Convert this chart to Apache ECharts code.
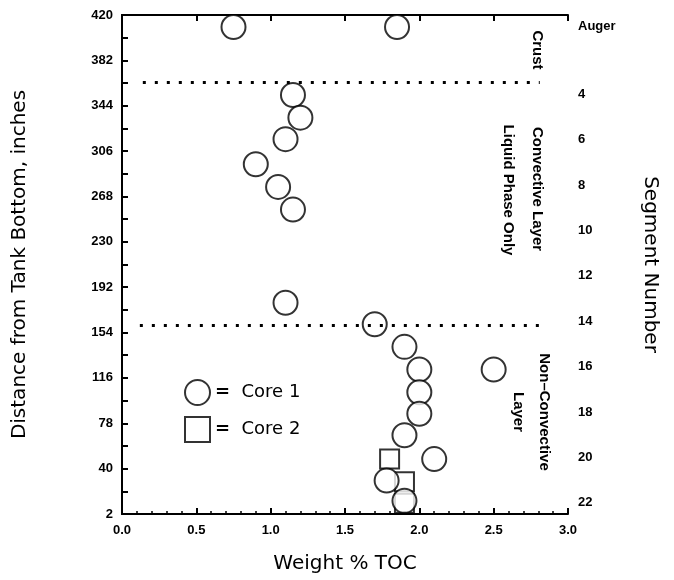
<!DOCTYPE html>
<html>
<head>
<meta charset="utf-8">
<script src="https://cdn.jsdelivr.net/npm/echarts@6/dist/echarts.min.js"></script>
<style>
  html, body { margin: 0; padding: 0; background: #fff; }
  #chart { width: 674px; height: 580px; }
</style>
</head>
<body>
<div id="chart"></div>
<script>
// Core 1 samples (weight % TOC, distance from tank bottom in inches)
const core1X = [0.75, 1.85, 1.15, 1.2, 1.1, 0.9, 1.05, 1.15, 1.1, 1.7, 1.9, 2.0, 2.0, 2.0, 1.9, 2.1, 1.78, 2.5, 1.9];
const core1Y = [410, 410, 353, 334, 316, 295, 276, 257, 179, 161, 142, 123, 104, 86, 68, 48, 30, 123, 13];
// Core 2 samples
const core2X = [1.8, 1.9, 1.9];
const core2Y = [48, 29, 11];

// layer boundaries (inches) and how far the dotted line runs (wt %)
const boundaryY = [364, 160];
const boundaryFrom = [0.14, 0.12];
const boundaryTo = [2.81, 2.86];

// right-hand axis: one slot per segment, top to bottom
const segmentLabels = ['Auger', '', '', '4', '', '6', '', '8', '', '10', '', '12', '',
    '14', '', '16', '', '18', '', '20', '', '22'];

const font = 'Liberation Sans';
const titleFont = 'DejaVu Sans';
const zip = (xs, ys) => xs.map((x, i) => [x, ys[i]]);

const chart = echarts.init(document.getElementById('chart'));

const boldLabel = { color: '#000', fontFamily: font, fontWeight: 'bold', fontSize: 13 };
const axisLine = { show: true, lineStyle: { color: '#000', width: 2 } };
const titleStyle = { color: '#000', fontFamily: titleFont, fontSize: 20 };

function sideText(text, x, y) {
    return {
        type: 'text', x: x, y: y, rotation: -Math.PI / 2,
        style: { text: text, x: 0, y: 0, align: 'center', verticalAlign: 'middle',
            fill: '#000', fontFamily: font, fontWeight: 'bold', fontSize: 15 }
    };
}

chart.setOption({
    animation: false,
    grid: { left: 122, right: 106, top: 15, bottom: 66 },
    xAxis: [
        {
            type: 'value', min: 0, max: 3, interval: 0.5, position: 'bottom',
            name: 'Weight % TOC', nameLocation: 'middle', nameGap: 40,
            nameTextStyle: titleStyle,
            axisLine: axisLine,
            axisTick: { inside: true, length: 6, lineStyle: { color: '#000', width: 2 } },
            minorTick: { show: true, splitNumber: 5, length: 3, lineStyle: { color: '#000', width: 1.5 } },
            axisLabel: Object.assign({ margin: 10, formatter: v => v.toFixed(1) }, boldLabel),
            splitLine: { show: false }
        },
        {
            type: 'value', min: 0, max: 3, interval: 0.5, position: 'top',
            axisLine: axisLine,
            axisTick: { inside: true, length: 6, lineStyle: { color: '#000', width: 2 } },
            axisLabel: { show: false },
            splitLine: { show: false }
        }
    ],
    yAxis: [
        {
            type: 'value', min: 2, max: 420, interval: 38, position: 'left',
            name: 'Distance from Tank Bottom, inches', nameLocation: 'middle', nameGap: 92, nameRotate: 90,
            nameTextStyle: titleStyle,
            axisLine: axisLine,
            axisTick: { inside: true, length: 6, lineStyle: { color: '#000', width: 2 } },
            minorTick: { show: true, splitNumber: 2, length: 6, lineStyle: { color: '#000', width: 2 } },
            axisLabel: Object.assign({ margin: 9 }, boldLabel),
            splitLine: { show: false }
        },
        {
            type: 'category', data: segmentLabels, inverse: true, position: 'right', boundaryGap: true,
            name: 'Segment Number', nameLocation: 'middle', nameGap: 72, nameRotate: -90,
            nameTextStyle: titleStyle,
            axisLine: axisLine,
            axisTick: { inside: true, length: 7, interval: 0, lineStyle: { color: '#000', width: 2 } },
            axisLabel: Object.assign({ margin: 10, interval: 0 }, boldLabel),
            splitLine: { show: false }
        }
    ],
    legend: {
        orient: 'vertical', left: 179, top: 374, itemGap: 10,
        itemWidth: 25, itemHeight: 25,
        data: [{ name: 'Core 1', icon: 'circle' }, { name: 'Core 2', icon: 'rect' }],
        formatter: name => '{eq|=}  ' + name,
        textStyle: {
            color: '#000', fontFamily: titleFont, fontSize: 18,
            rich: { eq: { fontFamily: titleFont, fontSize: 18, fontWeight: 'bold' } }
        }
    },
    series: [
        {
            name: 'Core 2', type: 'scatter', xAxisIndex: 0, yAxisIndex: 0,
            symbol: 'rect', symbolSize: [19, 19],
            itemStyle: { color: '#fff', borderColor: '#000', borderWidth: 2 },
            data: zip(core2X, core2Y)
        },
        {
            name: 'Core 1', type: 'scatter', xAxisIndex: 0, yAxisIndex: 0,
            symbol: 'circle', symbolSize: 24,
            itemStyle: { color: '#fff', borderColor: '#000', borderWidth: 2 },
            data: zip(core1X, core1Y),
            markLine: {
                silent: true, symbol: 'none', label: { show: false },
                lineStyle: { color: '#000', width: 3, type: [3, 9], cap: 'butt' },
                data: boundaryY.map((y, i) => [{ coord: [boundaryFrom[i], y] }, { coord: [boundaryTo[i], y] }])
            }
        }
    ],
    graphic: [
        sideText('Crust', 537, 50),
        sideText('Convective Layer', 537, 189),
        sideText('Liquid Phase Only', 508, 190),
        sideText('Non\u2013Convective', 544, 412),
        sideText('Layer', 518, 412)
    ]
});
</script>
</body>
</html>
